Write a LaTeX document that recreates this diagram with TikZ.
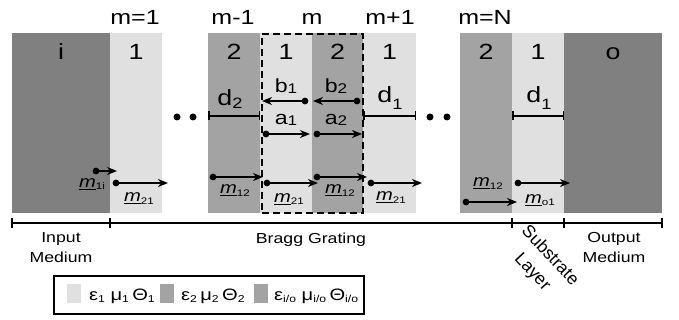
\documentclass[tikz,border=0pt]{standalone}
\usepackage{fontspec}
\setmainfont{Liberation Sans}
\usetikzlibrary{arrows.meta}

\definecolor{layerlight}{HTML}{E0E0E0}
\definecolor{layermid}{HTML}{A3A3A3}
\definecolor{layerdark}{HTML}{808080}

% lowered, smaller subscript: \subsc[drop]{size}{text}
\newcommand\subsc[3][-0.3ex]{\raisebox{#1}{\fontsize{#2}{#2}\selectfont #3}}
% underlined field vector m with a subscript
\newcommand\vecm[1]{\underline{\textit{m}}\subsc[-2pt]{9.5}{#1}}
% legend subscripts
\newcommand\lgsub[1]{\subsc[-2.5pt]{10}{#1}}

\begin{document}
\begin{tikzpicture}[x=1pt, y=-1pt,
  layer/.style={inner sep=0pt, outer sep=0pt, minimum height=180pt, anchor=north west},
  txt/.style={inner sep=0pt, xscale=1.22, anchor=base},
  toplbl/.style={txt, font=\fontsize{20.5}{20.5}\selectfont},
  layerlbl/.style={txt, font=\fontsize{22}{22}\selectfont},
  dlbl/.style={txt, font=\fontsize{22}{22}\selectfont},
  ablbl/.style={txt, font=\fontsize{19}{19}\selectfont},
  mlbl/.style={txt, font=\fontsize{16.5}{16.5}\selectfont},
  bottomlbl/.style={inner sep=0pt, xscale=1.22, align=center, font=\fontsize{14.5}{20}\selectfont},
  legtxt/.style={txt, anchor=base west, font=\fontsize{16.5}{16.5}\selectfont},
  swatch/.style={inner sep=0pt, outer sep=0pt, minimum width=14pt, minimum height=19pt, anchor=north west},
  vec/.style={line width=1.5pt, -{Stealth[length=10pt,width=8pt,inset=3pt]}},
  thick bar/.style={line width=1.5pt, {Bar[width=9pt,line width=1.5pt]}-{Bar[width=9pt,line width=1.5pt]}}
]
\useasboundingbox (0,0) rectangle (679,320);

% ---- layers of the stack ----
\node[layer, fill=layerdark,  minimum width=98pt] (inL)  at (12,33)  {};
\node[layer, fill=layerlight, minimum width=52pt] (g1)   at (110,33) {};
\node[layer, fill=layermid,   minimum width=52pt] (g2)   at (208,33) {};
\node[layer, fill=layerlight, minimum width=52pt] (g3)   at (260,33) {};
\node[layer, fill=layermid,   minimum width=51pt] (g4)   at (312,33) {};
\node[layer, fill=layerlight, minimum width=53pt] (g5)   at (363,33) {};
\node[layer, fill=layermid,   minimum width=52pt] (g6)   at (460,33) {};
\node[layer, fill=layerlight, minimum width=52pt] (sub)  at (512,33) {};
\node[layer, fill=layerdark,  minimum width=98pt] (outL) at (564,33) {};

% unit cell m
\node[draw, dashed, dash pattern=on 7pt off 4pt, line width=2pt, inner sep=0pt,
      minimum width=101pt, minimum height=179pt, anchor=north west] (cell) at (261,33) {};

% period labels
\node[toplbl] (p1)  at (135,25) {m=1};
\node[toplbl] (pm1) at (233,25) {m-1};
\node[toplbl] (pm)  at (312,25) {m};
\node[toplbl] (pp1) at (390,25) {m+1};
\node[toplbl] (pN)  at (485,25) {m=N};

% layer names
\node[layerlbl] at (61,60)    {i};
\node[layerlbl] at (136,60)   {1};
\node[layerlbl] at (234,60)   {2};
\node[layerlbl] at (286,60)   {1};
\node[layerlbl] at (337.5,60) {2};
\node[layerlbl] at (389.5,60) {1};
\node[layerlbl] at (486,60)   {2};
\node[layerlbl] at (538,60)   {1};
\node[layerlbl] at (613,60)   {o};

% omitted periods
\fill (177,117) circle (3.5pt);
\fill (193,117) circle (3.5pt);
\fill (430,117) circle (3.5pt);
\fill (447,117) circle (3.5pt);

% thickness bars
\coordinate (d2a) at (208,116); \coordinate (d2b) at (260,116);
\coordinate (d1a) at (363,116); \coordinate (d1b) at (416,116);
\coordinate (d3a) at (512,116); \coordinate (d3b) at (564,116);
\draw[thick bar] (d2a) -- (d2b);
\draw[thick bar] (d1a) -- (d1b);
\draw[thick bar] (d3a) -- (d3b);
\node[dlbl] at (230,106) {d\subsc[-3pt]{15}{2}};
\node[dlbl] at (390,103) {d\subsc[-7pt]{15}{1}};
\node[dlbl] at (539,103) {d\subsc[-7pt]{15}{1}};

% modal amplitudes inside the cell
\coordinate (b1s) at (305,101); \coordinate (b1e) at (262,101);
\coordinate (b2s) at (357,101); \coordinate (b2e) at (313,101);
\coordinate (a1s) at (266,134); \coordinate (a1e) at (310,134);
\coordinate (a2s) at (317,134); \coordinate (a2e) at (362,134);
\foreach \s/\e in {b1s/b1e, b2s/b2e, a1s/a1e, a2s/a2e}{
  \draw[vec] (\s) -- (\e);
  \fill (\s) circle (3.4pt);
}
\node[ablbl] at (286,93)  {b\subsc[-1pt]{14}{1}};
\node[ablbl] at (336,93)  {b\subsc[-1pt]{14}{2}};
\node[ablbl] at (286,125) {a\subsc[-1pt]{14}{1}};
\node[ablbl] at (336,125) {a\subsc[-1pt]{14}{2}};

% transfer matrices
\coordinate (m1s) at (96,171);  \coordinate (m1e) at (117,171);
\coordinate (m2s) at (116,183); \coordinate (m2e) at (168,183);
\coordinate (m3s) at (213,177); \coordinate (m3e) at (263,177);
\coordinate (m4s) at (267,183); \coordinate (m4e) at (318,183);
\coordinate (m5s) at (317,177); \coordinate (m5e) at (367,177);
\coordinate (m6s) at (371,183); \coordinate (m6e) at (422,183);
\coordinate (m7s) at (466,202); \coordinate (m7e) at (517,202);
\coordinate (m8s) at (518,183); \coordinate (m8e) at (570,183);
\foreach \s/\e in {m1s/m1e, m2s/m2e, m3s/m3e, m4s/m4e, m5s/m5e, m6s/m6e, m7s/m7e, m8s/m8e}{
  \draw[vec] (\s) -- (\e);
  \fill (\s) circle (3.4pt);
}
\node[mlbl] at (92,188)  {\vecm{1i}};
\node[mlbl] at (139,202) {\vecm{21}};
\node[mlbl] at (235,194) {\vecm{12}};
\node[mlbl] at (289,203) {\vecm{21}};
\node[mlbl] at (340,194) {\vecm{12}};
\node[mlbl] at (391,201) {\vecm{21}};
\node[mlbl] at (488,187) {\vecm{12}};
\node[mlbl] at (540,204) {\vecm{o1}};

% region axis
\coordinate (ax0) at (12,223);
\coordinate (ax1) at (110,223);
\coordinate (ax2) at (512,223);
\coordinate (ax3) at (564,223);
\coordinate (ax4) at (662,223);
\draw[line width=1.4pt] (ax0) -- (ax4);
\foreach \t in {ax0, ax1, ax2, ax3, ax4}
  \draw[line width=2pt] ([yshift=-5pt]\t) -- ([yshift=5pt]\t);

\node[bottomlbl, anchor=north] at (61,232)  {Input\\Medium};
\node[txt, font=\fontsize{14.5}{14.5}\selectfont] at (311,243) {Bragg Grating};
\node[bottomlbl, anchor=north] at (614,232) {Output\\Medium};
\node[inner sep=0pt, align=center, font=\fontsize{17.5}{24}\selectfont, rotate=-47]
  at (541,264) {Substrate\\Layer};

% legend
\node[draw, line width=2pt, inner sep=0pt, minimum width=310pt, minimum height=38pt,
      anchor=north west] (legend) at (53,275) {};
\node[swatch, fill=layerlight] (sw1) at (67,284)  {};
\node[swatch, fill=layermid]   (sw2) at (160,284) {};
\node[swatch, fill=layermid]   (sw3) at (254,284) {};
\node[legtxt] at (89,300)  {ε\lgsub{1}\ μ\lgsub{1}\,Θ\lgsub{1}};
\node[legtxt] at (181,300) {ε\lgsub{2}\,μ\lgsub{2}\,Θ\lgsub{2}};
\node[legtxt] at (274,300) {ε\lgsub{i/o}\ μ\lgsub{i/o}\,Θ\lgsub{i/o}};
\end{tikzpicture}
\end{document}
